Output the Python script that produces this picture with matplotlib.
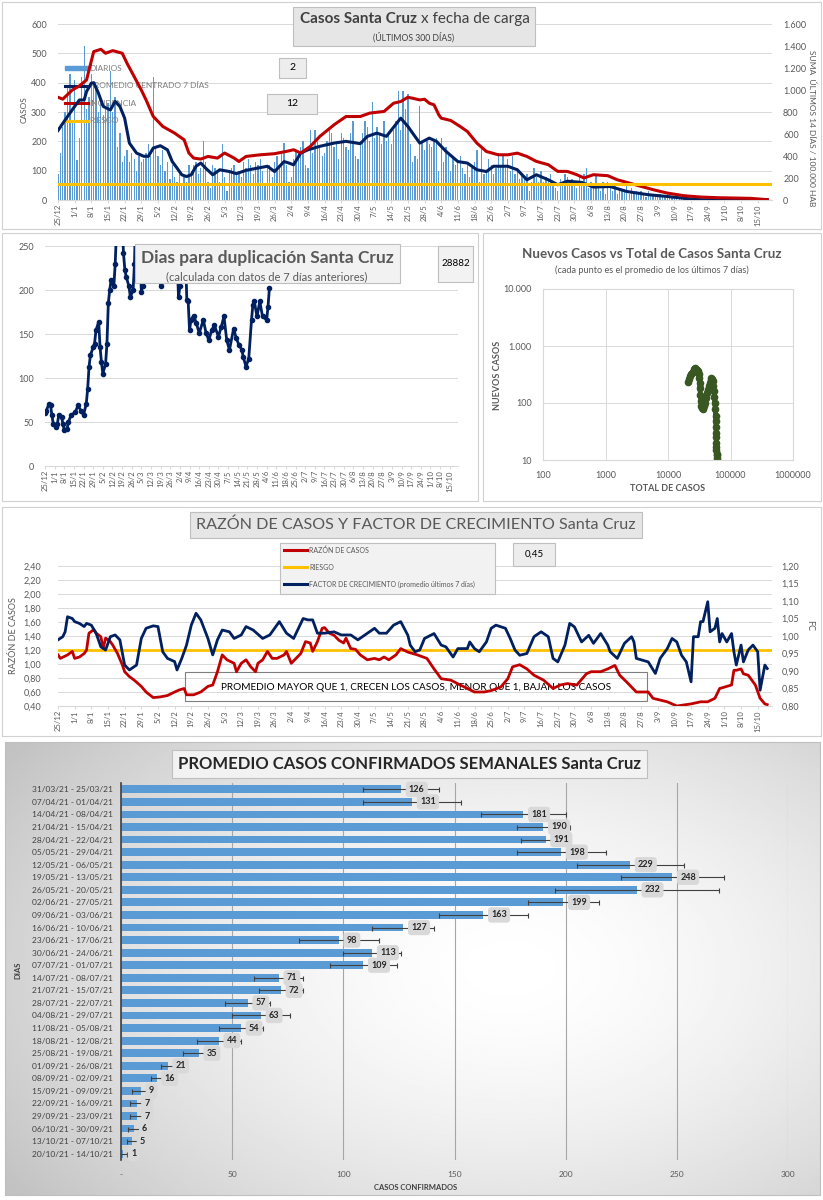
import matplotlib
matplotlib.use("Agg")
import matplotlib.pyplot as plt
import numpy as np
from matplotlib.patches import Rectangle, Patch
from matplotlib.lines import Line2D
from matplotlib.ticker import FuncFormatter

plt.rcParams['font.family'] = ['Lato', 'DejaVu Sans']

W, H = 823, 1200
TXT = '#595959'
GRID = '#D9D9D9'
NAVY = '#002060'
RED = '#C00000'
YELLOW = '#FFC000'
BLUE = '#5B9BD5'

# ---- datos ----
fechas = ["25/12", "1/1", "8/1", "15/1", "22/1", "29/1", "5/2", "12/2", "19/2", "26/2",
          "5/3", "12/3", "19/3", "26/3", "2/4", "9/4", "16/4", "23/4", "30/4", "7/5",
          "14/5", "21/5", "28/5", "4/6", "11/6", "18/6", "25/6", "2/7", "9/7", "16/7",
          "23/7", "30/7", "6/8", "13/8", "20/8", "27/8", "3/9", "10/9", "17/9", "24/9",
          "1/10", "8/10", "15/10"]
tick_dias = [7 * i for i in range(len(fechas))]

# casos diarios (ultimos 300 dias)
diarios = [
    90, 160, 250, 300, 390, 430, 270,
    410, 135, 210, 420, 525, 310, 350,
    430, 390, 380, 300, 330, 290, 310,
    330, 440, 300, 350, 180, 230, 130,
    150, 170, 130, 160, 140, 100, 150,
    130, 140, 160, 190, 150, 420, 180,
    150, 120, 170, 100, 130, 70, 120,
    80, 60, 90, 50, 80, 60, 120,
    100, 120, 130, 90, 110, 200, 130,
    60, 40, 120, 110, 100, 60, 190,
    80, 30, 100, 110, 120, 90, 100,
    80, 130, 110, 140, 120, 90, 130,
    120, 140, 100, 50, 110, 120, 80,
    130, 150, 110, 160, 195, 120, 60,
    80, 140, 170, 160, 180, 200, 120,
    110, 240, 160, 240, 200, 180, 150,
    160, 200, 240, 230, 180, 200, 140,
    230, 210, 180, 170, 230, 270, 150,
    140, 200, 230, 270, 250, 200, 335,
    210, 250, 220, 190, 270, 200, 220,
    190, 240, 270, 370, 240, 370, 310,
    360, 190, 130, 150, 140, 320, 200,
    170, 200, 190, 180, 200, 210, 100,
    210, 130, 180, 160, 100, 150, 120,
    130, 150, 110, 90, 120, 80, 110,
    130, 170, 60, 180, 90, 100, 140,
    120, 90, 110, 160, 120, 150, 110,
    140, 100, 150, 90, 110, 70, 90,
    80, 90, 30, 60, 110, 80, 60,
    100, 60, 80, 70, 90, 50, 40,
    30, 70, 50, 90, 80, 60, 70,
    50, 40, 80, 60, 90, 108, 40,
    60, 50, 90, 40, 30, 60, 20,
    60, 40, 30, 50, 20, 40, 30,
    30, 50, 20, 40, 20, 30, 20,
    30, 20, 10, 30, 20, 15, 20,
    10, 20, 15, 10, 20, 10, 15,
    10, 5, 10, 15, 5, 10, 5,
    8, 5, 10, 5, 8, 5, 3,
    5, 8, 3, 5, 4, 6, 2,
    4, 6, 3, 5, 2, 7, 3,
    5, 3, 4, 6, 2, 3, 4,
    2, 3, 1, 2, 1, 1]

prom_dias = [0, 3, 5, 7, 9, 11, 12, 14, 15, 17, 19, 22, 24, 26, 28, 30, 33, 36, 38, 40,
             43, 46, 48, 50, 52, 54, 56, 58, 60, 62, 65, 68, 72, 75, 79, 84, 88, 91, 95, 97,
             99, 102, 105, 110, 116, 121, 127, 130, 134, 138, 144, 147, 149, 152, 156, 159, 163, 168, 172, 176,
             180, 183, 189, 193, 197, 201, 206, 210, 214, 220, 225, 232, 239, 248, 256, 264, 270, 298]
prom_vals = [237, 273, 296, 319, 341, 341, 370, 398, 400, 364, 319, 307, 336, 319, 279, 194, 160, 149, 149, 177,
             185, 171, 131, 109, 86, 80, 86, 115, 126, 109, 86, 103, 97, 90, 101, 109, 115, 97, 131, 126,
             120, 160, 171, 183, 194, 200, 192, 217, 228, 217, 279, 251, 228, 194, 211, 200, 166, 131, 126, 103,
             97, 115, 115, 103, 69, 86, 69, 52, 64, 60, 44, 46, 29, 18, 12, 5, 1, 1]

incid_dias = [0, 2, 6, 9, 12, 15, 18, 20, 23, 27, 29, 32, 35, 37, 40, 44, 49, 53, 55, 57,
              60, 63, 67, 70, 74, 76, 79, 85, 91, 96, 99, 102, 106, 110, 116, 121, 127, 131, 137, 141,
              144, 147, 149, 152, 154, 156, 158, 160, 161, 165, 169, 172, 176, 180, 185, 189, 193, 197, 201, 206,
              210, 214, 218, 221, 225, 231, 235, 239, 245, 250, 256, 263, 270, 277, 284, 291, 298]
incid_vals = [934, 917, 1000, 1037, 1092, 1349, 1370, 1334, 1358, 1334, 1243, 1122, 1000, 910, 760, 669, 608, 547, 427, 381,
              372, 396, 381, 427, 381, 350, 396, 411, 421, 442, 457, 427, 487, 578, 684, 759, 759, 790, 805, 880,
              895, 934, 925, 910, 916, 880, 865, 774, 744, 723, 668, 623, 517, 441, 411, 411, 426, 396, 351, 321,
              260, 260, 230, 200, 230, 221, 184, 160, 124, 94, 63, 39, 27, 21, 18, 15, 3]
riesgo_incid = 150

dup_dias = [0, 1, 3, 4, 5, 6, 8, 9, 10, 12, 13, 14, 16, 17, 19, 22, 24, 26, 28, 30,
            31, 32, 33, 35, 36, 37, 39, 40, 41, 42, 44, 45, 46, 47, 48, 50, 51, 52, 54, 56,
            57, 58, 59, 61, 62, 64, 65, 66, 68, 70, 71, 73, 76, 80, 84, 86, 88, 92, 95, 97,
            98, 100, 102, 103, 104, 105, 106, 108, 110, 112, 115, 117, 119, 121, 123, 126, 128, 130, 132, 134,
            137, 139, 141, 143, 144, 146, 148, 150, 151, 152, 154, 156, 158, 161, 162, 163]
dup_vals = [60, 63, 71, 69, 58, 48, 44, 48, 58, 56, 48, 41, 42, 50, 58, 61, 69, 63, 58, 71,
            88, 113, 126, 135, 139, 154, 164, 135, 118, 105, 116, 139, 185, 200, 211, 204, 230, 270, 300, 280,
            242, 223, 215, 204, 192, 200, 230, 300, 280, 198, 205, 290, 300, 280, 204, 210, 290, 300, 270, 192,
            204, 260, 245, 189, 187, 154, 166, 171, 162, 151, 166, 151, 143, 154, 160, 147, 158, 170, 143, 132,
            156, 145, 137, 132, 124, 113, 122, 166, 183, 187, 170, 187, 170, 166, 181, 202]

total_casos = [20900, 21500, 22200, 23000, 24000, 25100, 26000, 26700, 27800, 29000,
               30200, 31000, 31500, 32000, 32500, 33000, 33600, 34200, 35000, 36000,
               37200, 38600, 40000, 41500, 43000, 44800, 46500, 48000, 49500, 50800,
               52000, 53200, 54300, 55300, 56200, 57000, 57600, 58100, 58500, 58800,
               59100, 59300, 59500, 59700, 59800, 59900, 60000, 60100]
nuevos_casos = [238, 260, 292, 320, 340, 355, 390, 407, 400, 385,
                370, 320, 270, 220, 180, 140, 110, 90, 82, 80,
                88, 99, 120, 148, 170, 195, 225, 255, 272, 265,
                240, 200, 160, 130, 100, 80, 60, 48, 38, 30,
                25, 20, 17, 15, 13, 12, 11, 10]

razon_dias = [0, 1, 4, 6, 7, 9, 11, 12, 13, 15, 16, 18, 19, 20, 22, 23, 25, 27, 28, 30,
              32, 35, 37, 40, 43, 46, 49, 51, 53, 54, 57, 60, 63, 65, 67, 69, 71, 74, 75, 77,
              79, 81, 83, 84, 86, 88, 90, 92, 95, 96, 98, 100, 102, 104, 106, 107, 109, 111, 112, 114,
              116, 118, 120, 121, 123, 125, 127, 130, 133, 135, 137, 139, 142,
              144, 147, 151, 155, 158, 161, 165, 169, 172, 175, 179, 182, 186, 189, 191, 193, 194, 197, 200, 204,
              208, 211, 214, 218, 222, 224, 228, 231, 234, 236, 239, 243, 248, 250, 256, 260, 266, 270, 273, 276,
              278, 280, 283, 284, 285, 287, 288, 290, 293, 295, 297, 298]
razon_vals = [1.13, 1.08, 1.13, 1.18, 1.08, 1.10, 1.15, 1.20, 1.44, 1.49, 1.44, 1.39, 1.22, 1.37, 1.32, 1.27, 1.15, 0.99, 0.89, 0.82,
              0.77, 0.68, 0.60, 0.52, 0.53, 0.55, 0.60, 0.63, 0.65, 0.56, 0.56, 0.60, 0.68, 0.70, 0.89, 1.13, 1.06, 1.01, 0.89, 1.01,
              1.06, 0.96, 0.89, 1.01, 1.06, 1.18, 1.08, 1.08, 1.13, 1.18, 1.01, 1.08, 1.15, 1.32, 1.30, 1.18, 1.32, 1.51, 1.52, 1.44,
              1.41, 1.34, 1.30, 1.37, 1.22, 1.21, 1.13, 1.06, 1.08, 1.06, 1.10, 1.06, 1.13,
              1.22, 1.17, 1.13, 1.08, 0.93, 0.79, 0.77, 0.70, 0.65, 0.60, 0.60, 0.62, 0.67, 0.79, 0.96, 0.98, 0.99, 0.93, 0.84, 0.77,
              0.65, 0.70, 0.72, 0.70, 0.86, 0.89, 0.89, 0.93, 0.98, 0.84, 0.74, 0.60, 0.60, 0.51, 0.46, 0.40, 0.43, 0.46, 0.46, 0.51,
              0.65, 0.67, 0.70, 0.91, 0.91, 0.93, 0.86, 0.84, 0.70, 0.51, 0.43, 0.42]
riesgo_razon = 1.20

fc_dias = [0, 2, 3, 4, 6, 7, 9, 11, 12, 14, 16, 18, 20, 22, 24, 26, 28, 30, 33, 35,
           37, 40, 42, 44, 46, 49, 50, 52, 54, 56, 58, 60, 63, 65, 67, 69, 72, 74, 77, 79,
           82, 86, 89, 93, 96, 99, 103, 105, 107, 109, 112, 116, 119, 123, 126, 130, 133, 135, 138, 141,
           144, 147, 148, 150, 152, 154, 158, 161, 163, 166, 168, 172, 173, 175, 177, 180, 182, 184, 188, 190,
           192, 194, 197, 200, 203, 206, 208, 210, 213, 215, 217, 220, 223, 225, 228, 231, 232, 235, 238, 241,
           242, 243, 248, 251, 253, 256, 258, 260, 262, 264, 266, 267, 269, 270, 271, 273, 274, 276, 277, 278,
           279, 281, 283, 284, 285, 287, 288, 290, 292, 294, 295, 297, 298]
fc_vals = [0.989, 0.998, 1.012, 1.055, 1.050, 1.041, 1.036, 1.027, 1.036, 1.031, 1.008, 0.969, 0.960, 0.998, 1.003, 0.989, 0.917, 0.903, 0.917, 0.993,
           1.022, 1.029, 1.027, 0.955, 0.936, 0.927, 0.903, 0.936, 0.974, 1.031, 1.065, 1.046, 0.993, 0.946, 0.989, 1.017, 1.012, 0.993, 1.003, 1.027,
           1.017, 0.993, 1.003, 1.041, 1.008, 0.993, 1.050, 1.046, 1.046, 1.008, 1.008, 1.012, 1.003, 1.003, 0.989, 1.008, 1.022, 1.008, 1.008, 1.031,
           1.041, 1.002, 0.974, 0.955, 0.960, 0.993, 1.007, 0.974, 0.969, 0.940, 0.964, 0.964, 0.983, 0.964, 0.955, 0.983, 1.022, 1.031, 1.022, 0.993,
           0.960, 0.945, 0.950, 0.998, 1.012, 0.998, 0.936, 0.926, 0.974, 1.036, 1.026, 0.983, 1.002, 0.979, 1.007, 0.974, 0.955, 0.936, 0.979, 0.998,
           0.983, 0.936, 0.926, 0.893, 0.936, 0.964, 0.993, 0.983, 0.945, 0.926, 0.869, 0.998, 0.998, 1.041, 1.041, 1.098, 1.012, 1.022, 1.050, 0.983,
           1.007, 0.983, 1.007, 0.955, 0.917, 0.974, 0.926, 0.960, 0.974, 0.955, 0.845, 0.917, 0.907]

semanas = ["31/03/21 - 25/03/21", "07/04/21 - 01/04/21", "14/04/21 - 08/04/21", "21/04/21 - 15/04/21",
           "28/04/21 - 22/04/21", "05/05/21 - 29/04/21", "12/05/21 - 06/05/21", "19/05/21 - 13/05/21",
           "26/05/21 - 20/05/21", "02/06/21 - 27/05/21", "09/06/21 - 03/06/21", "16/06/21 - 10/06/21",
           "23/06/21 - 17/06/21", "30/06/21 - 24/06/21", "07/07/21 - 01/07/21", "14/07/21 - 08/07/21",
           "21/07/21 - 15/07/21", "28/07/21 - 22/07/21", "04/08/21 - 29/07/21", "11/08/21 - 05/08/21",
           "18/08/21 - 12/08/21", "25/08/21 - 19/08/21", "01/09/21 - 26/08/21", "08/09/21 - 02/09/21",
           "15/09/21 - 09/09/21", "22/09/21 - 16/09/21", "29/09/21 - 23/09/21", "06/10/21 - 30/09/21",
           "13/10/21 - 07/10/21", "20/10/21 - 14/10/21"]
prom_sem = [126, 131, 181, 190, 191, 198, 229, 248, 232, 199, 163, 127, 98, 113, 109,
            71, 72, 57, 63, 54, 44, 35, 21, 16, 9, 7, 7, 6, 5, 1]
err_sem = [17, 22, 19, 12, 11, 20, 24, 23, 37, 16, 20, 14, 18, 13, 15,
           11, 10, 10, 13, 10, 10, 7, 3, 2.5, 4, 3, 3, 3, 2.5, 1.5]

# ---- helpers ----
fig = plt.figure(figsize=(8.23, 12), dpi=100)


def rect(x0, y0, x1, y1):
    return [x0 / W, 1 - y1 / H, (x1 - x0) / W, (y1 - y0) / H]


def caja(x0, y0, x1, y1, fc='#E7E6E6', ec='#BFBFBF', lw=0.8, z=1):
    fig.patches.append(Rectangle((x0 / W, 1 - y1 / H), (x1 - x0) / W, (y1 - y0) / H,
                                 transform=fig.transFigure, fc=fc, ec=ec, lw=lw, zorder=z))


def texto(x, y, s, **kw):
    kw.setdefault('ha', 'center')
    kw.setdefault('va', 'center')
    kw.setdefault('color', TXT)
    fig.text(x / W, 1 - y / H, s, **kw)


def miles(v, pos):
    return f"{int(round(v)):,}".replace(",", ".")


def coma(v, pos):
    return f"{v:.2f}".replace(".", ",")


def estilo(ax, ypad=6):
    for s in ['top', 'right', 'left']:
        ax.spines[s].set_visible(False)
    ax.spines['bottom'].set_color(GRID)
    ax.tick_params(axis='y', length=0, labelsize=6.5, labelcolor=TXT, pad=ypad)
    ax.tick_params(axis='x', length=2, color=GRID, labelsize=5.5, labelcolor=TXT, pad=1)
    ax.grid(axis='y', color=GRID, lw=0.7)
    ax.set_axisbelow(True)
    ax.set_facecolor('none')


def fechas_x(ax):
    ax.set_xlim(0, 300)
    ax.set_xticks(tick_dias)
    ax.set_xticklabels(fechas, rotation=90)


# marcos de los paneles
caja(2, 2, 821, 229, fc='none', ec='#D0D0D0', z=0.5)
caja(2, 233, 478, 501, fc='none', ec='#D0D0D0', z=0.5)
caja(483, 233, 821, 501, fc='none', ec='#D0D0D0', z=0.5)
caja(2, 507, 821, 736, fc='none', ec='#D0D0D0', z=0.5)

# ---- panel 1: casos diarios ----
ax1 = fig.add_axes(rect(58, 24, 772, 200))
estilo(ax1, ypad=8)
ax1.bar(np.arange(len(diarios)), diarios, width=0.55, color=BLUE, zorder=2)
ax1.plot(prom_dias, prom_vals, color=NAVY, lw=2.2, zorder=3)
ax1.set_ylim(0, 600)
ax1.set_yticks(range(0, 601, 100))
fechas_x(ax1)
ax1b = ax1.twinx()
ax1b.plot(incid_dias, incid_vals, color=RED, lw=2.2)
ax1b.axhline(riesgo_incid, color=YELLOW, lw=2.2)
ax1b.set_ylim(0, 1600)
ax1b.set_yticks(range(0, 1601, 200))
ax1b.yaxis.set_major_formatter(FuncFormatter(miles))
for s in ax1b.spines.values():
    s.set_visible(False)
ax1b.tick_params(axis='y', length=0, labelsize=6.5, labelcolor=TXT, pad=8)
hs = [Patch(color=BLUE), Line2D([], [], color=NAVY, lw=2.2),
      Line2D([], [], color=RED, lw=2.2), Line2D([], [], color=YELLOW, lw=2.2)]
leg = ax1.legend(hs, ["DIARIOS", "PROMEDIO CENTRADO 7 DÍAS", "INCIDENCIA", "RIESGO"],
                 loc='upper left', bbox_to_anchor=(65 / W, 1 - 65 / H), bbox_transform=fig.transFigure,
                 frameon=False, fontsize=6, handlelength=2.8, handleheight=0.5, handletextpad=0.1,
                 labelspacing=1.25, borderpad=0, borderaxespad=0)
for t in leg.get_texts():
    t.set_color('#7F7F7F')
leg.set_zorder(2.5)
texto(24, 110, "CASOS", rotation=90, fontsize=6)
texto(812, 128, "SUMA  ÚLTIMOS 14 DÍAS / 100.000 HAB", rotation=270, fontsize=6)
caja(293, 7, 535, 46)
texto(417, 19, "Casos Santa Cruz", ha='right', fontweight='bold', fontsize=11, color='#404040')
texto(421, 19, "x fecha de carga", ha='left', fontsize=11, color='#404040')
texto(414, 37, "(ÚLTIMOS 300 DÍAS)", fontsize=6.2, color='#404040')
caja(279, 58, 306, 78, fc='#EDEDED')
texto(292.5, 68, "2", fontsize=7.5, color='black')
caja(267, 94, 317, 114, fc='#EDEDED')
texto(292, 104, "12", fontsize=7.5, color='black')

# ---- panel 2: dias para duplicacion ----
ax2 = fig.add_axes(rect(45, 246, 458, 466))
estilo(ax2, ypad=8)
ax2.plot(dup_dias, dup_vals, color=NAVY, lw=2, marker='o', ms=3)
ax2.set_ylim(0, 250)
ax2.set_yticks(range(0, 251, 50))
fechas_x(ax2)
caja(135, 244, 400, 283, fc='#F2F2F2')
texto(267, 258, "Dias para duplicación Santa Cruz", fontweight='bold', fontsize=12.5)
texto(267, 277, "(calculada con datos de 7 días anteriores)", fontsize=8)
caja(438, 246, 473, 282, fc='#F2F2F2')
texto(455.5, 264, "28882", fontsize=7, color='black')

# ---- panel 3: nuevos vs total ----
ax3 = fig.add_axes(rect(543, 289, 793, 460))
ax3.set_xscale('log')
ax3.set_yscale('log')
ax3.plot(total_casos, nuevos_casos, color='#385723', lw=3.5, marker='o', ms=4.5)
ax3.set_xlim(100, 1e6)
ax3.set_ylim(10, 1e4)
ax3.set_xticks([100, 1000, 10000, 100000, 1000000])
ax3.set_yticks([10, 100, 1000, 10000])
ax3.minorticks_off()
ax3.xaxis.set_major_formatter(FuncFormatter(lambda v, p: f"{int(round(v))}"))
ax3.yaxis.set_major_formatter(FuncFormatter(miles))
ax3.grid(True, color=GRID, lw=0.7)
ax3.set_axisbelow(True)
for s in ax3.spines.values():
    s.set_color(GRID)
ax3.tick_params(length=0, labelsize=6.5, labelcolor=TXT, pad=8)
texto(498, 375, "NUEVOS CASOS", rotation=90, fontweight='bold', fontsize=6.5)
texto(668, 488, "TOTAL DE CASOS", fontweight='bold', fontsize=6.5)
texto(652, 254, "Nuevos Casos vs Total de Casos Santa Cruz", fontweight='bold', fontsize=9.6)
texto(652, 270, "(cada punto es el promedio de los últimos 7 días)", fontsize=6.6)

# ---- panel 4: razon de casos y factor de crecimiento ----
ax4 = fig.add_axes(rect(58, 566, 772, 706))
estilo(ax4, ypad=12)
ax4.plot(razon_dias, razon_vals, color=RED, lw=2, zorder=3)
ax4.axhline(riesgo_razon, color=YELLOW, lw=2, zorder=2)
ax4.set_ylim(0.4, 2.4)
ax4.set_yticks(np.arange(0.4, 2.41, 0.2))
ax4.yaxis.set_major_formatter(FuncFormatter(coma))
fechas_x(ax4)
ax4b = ax4.twinx()
ax4b.plot(fc_dias, fc_vals, color=NAVY, lw=2)
ax4b.set_ylim(0.8, 1.2)
ax4b.set_yticks(np.arange(0.8, 1.201, 0.05))
ax4b.yaxis.set_major_formatter(FuncFormatter(coma))
for s in ax4b.spines.values():
    s.set_visible(False)
ax4b.tick_params(axis='y', length=0, labelsize=6.5, labelcolor=TXT, pad=7)
ax4.add_artist(Rectangle((185 / W, 1 - 701 / H), 462 / W, 29 / H, transform=fig.transFigure,
                         fc='none', ec='#7F7F7F', lw=0.8, zorder=1, clip_on=False))
ax4.text(416 / W, 1 - 687 / H, "PROMEDIO MAYOR QUE 1, CRECEN LOS CASOS, MENOR QUE 1, BAJAN LOS CASOS",
         transform=fig.transFigure, ha='center', va='center', fontsize=7.2, color='black', zorder=1)
caja(190, 512, 642, 538)
texto(416, 525, "RAZÓN DE CASOS Y FACTOR DE CRECIMIENTO Santa Cruz", fontsize=11.6)
caja(280, 543, 495, 594, fc='#F2F2F2')
hs4 = [Line2D([], [], color=RED, lw=2.2), Line2D([], [], color=YELLOW, lw=2.2),
       Line2D([], [], color=NAVY, lw=2.2)]
leg4 = fig.legend(hs4, ["RAZÓN DE CASOS", "RIESGO", "FACTOR DE CRECIMIENTO (promedio últimos 7 días)"],
                  loc='upper left', bbox_to_anchor=(284 / W, 1 - 546 / H), frameon=False, fontsize=5,
                  handlelength=3.3, handletextpad=0.3, labelspacing=1.45, borderpad=0, borderaxespad=0)
for t in leg4.get_texts():
    t.set_color(TXT)
caja(513, 543, 555, 566, fc='#EDEDED')
texto(534, 554.5, "0,45", fontsize=7, color='black')
texto(14, 636, "RAZÓN DE CASOS", rotation=90, fontsize=6.5)
texto(810, 625, "FC", rotation=270, fontsize=6.5)

# ---- panel 5: promedio semanal ----
bg = fig.add_axes(rect(5, 742, 820, 1195))
yy, xx = np.mgrid[0:1:300j, 0:1:300j]
r = np.sqrt(((xx - 0.62) / 0.75) ** 2 + ((yy - 0.5) / 0.85) ** 2)
grad = 1 - 0.24 * np.clip(r, 0, 1) ** 1.6
bg.imshow(grad, cmap='gray', vmin=0, vmax=1, aspect='auto', extent=[0, 1, 0, 1])
bg.set_xticks([])
bg.set_yticks([])
for s in bg.spines.values():
    s.set_color('#BFBFBF')

ax5 = fig.add_axes(rect(121, 783, 788, 1160))
ax5.set_facecolor('none')
pos = np.arange(len(semanas))
ax5.barh(pos, prom_sem, height=0.62, color=BLUE, xerr=err_sem, zorder=2,
         error_kw=dict(ecolor='#404040', elinewidth=0.8, capsize=1.8, capthick=0.8, zorder=3))
for i, v in enumerate(prom_sem):
    ax5.text(v + 3.5, i, str(v), ha='left', va='center', fontsize=6.5, fontweight='bold',
             color='#262626', zorder=5,
             bbox=dict(boxstyle='round,pad=0.35', fc='#D9D9D9', ec='none'))
ax5.set_ylim(len(semanas) - 0.5, -0.5)
ax5.set_xlim(0, 300)
ax5.set_yticks(pos)
ax5.set_yticklabels(semanas)
ax5.set_xticks(range(0, 301, 50))
ax5.xaxis.set_major_formatter(FuncFormatter(lambda v, p: "-" if v == 0 else f"{int(v)}"))
ax5.grid(axis='x', color='#A6A6A6', lw=0.8)
ax5.set_axisbelow(True)
for s in ['top', 'right', 'bottom']:
    ax5.spines[s].set_visible(False)
ax5.spines['left'].set_color('#404040')
ax5.spines['left'].set_linewidth(1.2)
ax5.tick_params(length=0, labelsize=6, labelcolor='#404040')
ax5.tick_params(axis='x', pad=8, labelcolor=TXT)
ax5.tick_params(axis='y', pad=6)
caja(172, 750, 647, 778, fc='#F2F2F2', ec='#BFBFBF')
texto(410, 764, "PROMEDIO CASOS CONFIRMADOS SEMANALES Santa Cruz", fontweight='bold',
      fontsize=12, color='#262626')
texto(416, 1187, "CASOS CONFIRMADOS", fontweight='bold', fontsize=5.5, color='#404040')
texto(18, 970, "DIAS", rotation=90, fontweight='bold', fontsize=5.5, color='#404040')

fig.savefig("out.png", dpi=100)
